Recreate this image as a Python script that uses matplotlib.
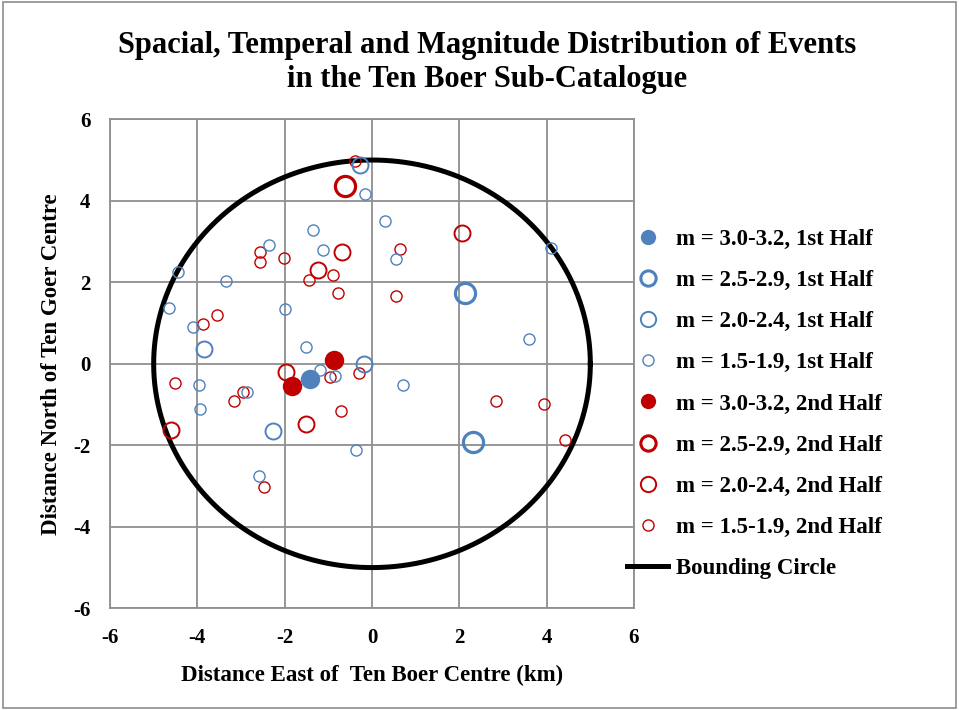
import numpy as np
import matplotlib.pyplot as plt
from matplotlib.lines import Line2D
from matplotlib.patches import Rectangle

plt.rcParams['font.family'] = ['Liberation Serif', 'DejaVu Serif']
plt.rcParams['font.weight'] = 'bold'
plt.rcParams['axes.unicode_minus'] = False

# event locations (km from Ten Boer centre), by magnitude class and half
b30_x = [-1.41]
b30_y = [-0.37]
b25_x = [2.12, 2.31]
b25_y = [1.73, -1.93]
b20_x = [-0.28, -3.85, -2.26, -0.18]
b20_y = [4.88, 0.37, -1.66, 0.0]
b15_x = [-0.16, -1.36, -2.36, -1.13, -4.45, -3.35, -4.66, -2.0, -4.10, -1.52, 0.30,
         0.54, 4.09, 3.59, 0.72, -1.18, -0.84, -2.86, -3.96, -3.94, -0.37, -2.58]
b15_y = [4.16, 3.28, 2.91, 2.79, 2.25, 2.02, 1.38, 1.34, 0.91, 0.42, 3.50,
         2.56, 2.85, 0.61, -0.53, -0.16, -0.31, -0.68, -0.53, -1.10, -2.12, -2.75]
r30_x = [-0.86, -1.84]
r30_y = [0.10, -0.54]
r25_x = [-0.62]
r25_y = [4.36]
r20_x = [2.07, -0.68, -1.23, -1.96, -1.50, -4.61]
r20_y = [3.21, 2.74, 2.29, -0.19, -1.47, -1.63]
r15_x = [-0.39, -2.57, -2.57, -2.01, -0.90, -1.44, -0.77, 0.64, 0.55, -3.56, -3.87,
         -4.51, -3.17, -2.95, -0.96, -0.30, -0.72, -2.47, 2.83, 3.95, 4.42]
r15_y = [4.98, 2.74, 2.50, 2.59, 2.18, 2.06, 1.73, 2.81, 1.67, 1.20, 0.97,
         -0.47, -0.91, -0.70, -0.33, -0.23, -1.17, -3.03, -0.91, -0.98, -1.87]
labels = ['m = 3.0-3.2, 1st Half', 'm = 2.5-2.9, 1st Half', 'm = 2.0-2.4, 1st Half',
          'm = 1.5-1.9, 1st Half', 'm = 3.0-3.2, 2nd Half', 'm = 2.5-2.9, 2nd Half',
          'm = 2.0-2.4, 2nd Half', 'm = 1.5-1.9, 2nd Half']
circle_r = 5.0
ticks = [-6, -4, -2, 0, 2, 4, 6]

blue = '#4F81BD'
red = '#C00000'
grid_c = '#8F8F8F'
# (marker size, edge width, filled) per magnitude class
styles = [(14, 0, True), (14.5, 2.3, False), (11.5, 1.4, False), (8, 1.0, False)]

fig = plt.figure(figsize=(9.59, 7.10), dpi=100)
fig.patches.append(Rectangle((0.003, 0.003), 0.994, 0.994, transform=fig.transFigure,
                             fill=False, edgecolor='#8C8C8C', linewidth=1.2))
ax = fig.add_axes([0.1147, 0.1432, 0.5464, 0.6888])

th = np.linspace(0, 2*np.pi, 400)
ax.plot(circle_r*np.cos(th), circle_r*np.sin(th), color='black', lw=3.6, zorder=2)

handles = []
groups = [(b30_x, b30_y), (b25_x, b25_y), (b20_x, b20_y), (b15_x, b15_y),
          (r30_x, r30_y), (r25_x, r25_y), (r20_x, r20_y), (r15_x, r15_y)]
for i, (xs, ys) in enumerate(groups):
    c = blue if i < 4 else red
    ms, ew, filled = styles[i % 4]
    ax.plot(xs, ys, ls='none', marker='o', ms=ms, mew=ew, mec=c,
            mfc=c if filled else 'none', zorder=5 if i < 4 else 4)
    lms = 11 if ms > 11 else 8
    handles.append(Line2D([], [], ls='none', marker='o', ms=lms, mew=min(ew, 2.2) if ew else 0,
                          mec=c, mfc=c if filled else 'none'))
handles.append(Line2D([], [], color='black', lw=3.6))

ax.set_xlim(-6, 6)
ax.set_ylim(-6, 6)
ax.set_xticks(ticks)
ax.set_yticks(ticks)
ax.grid(True, color=grid_c, lw=1.3)
ax.set_axisbelow(True)
for s in ax.spines.values():
    s.set_color(grid_c)
    s.set_linewidth(1.3)
ax.tick_params(length=0, labelsize=15, pad=14)
ax.set_xlabel('Distance East of  Ten Boer Centre (km)', fontsize=16.5, fontweight='bold', labelpad=12)
ax.set_ylabel('Distance North of Ten Goer Centre', fontsize=16.5, fontweight='bold', labelpad=8)
fig.text(0.508, 0.912, 'Spacial, Temperal and Magnitude Distribution of Events\nin the Ten Boer Sub-Catalogue',
         ha='center', va='center', fontsize=22, fontweight='bold', linespacing=1.2)

fig.legend(handles, labels + ['Bounding Circle'], loc='center left', bbox_to_anchor=(0.6325, 0.431),
           frameon=False, fontsize=16.5, labelspacing=0.88, handlelength=1.8, handletextpad=0.35)
fig.savefig('out.png', dpi=100)
